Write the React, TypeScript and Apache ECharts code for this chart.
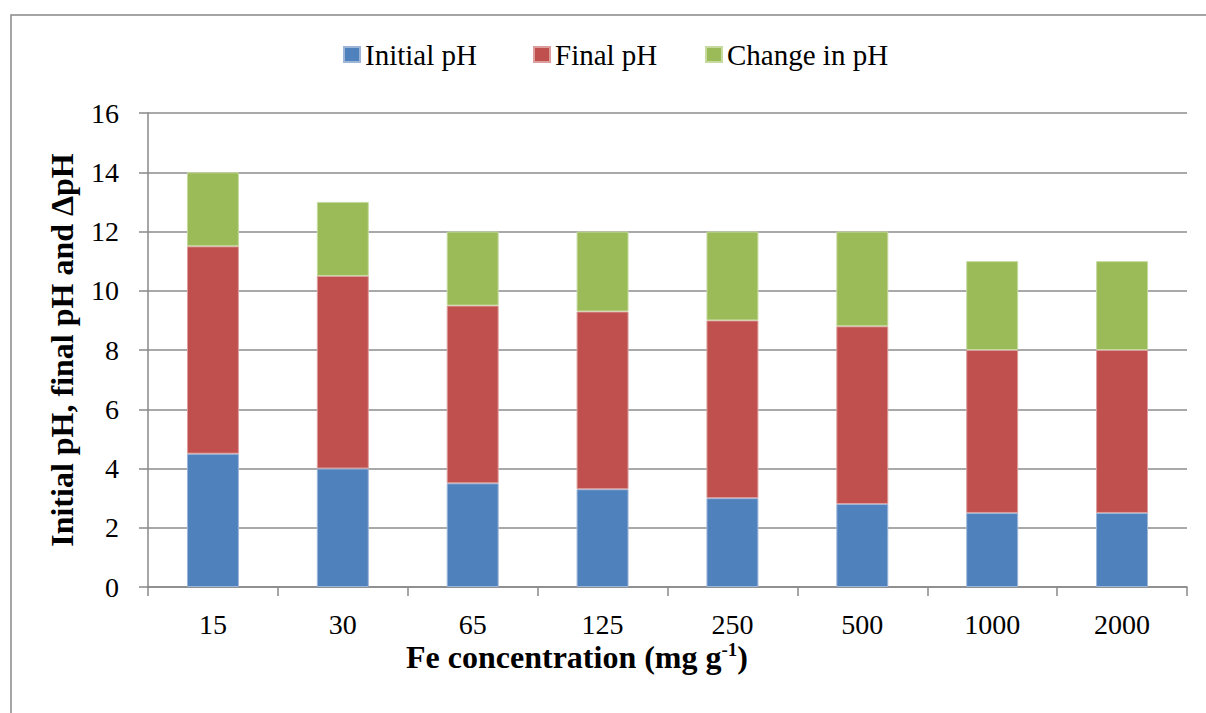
import React, { useEffect, useRef } from "react";
import * as echarts from "echarts";

const categories = ["15", "30", "65", "125", "250", "500", "1000", "2000"];
const initialPH = [4.5, 4.0, 3.5, 3.3, 3.0, 2.8, 2.5, 2.5];
const finalPH = [7.0, 6.5, 6.0, 6.0, 6.0, 6.0, 5.5, 5.5];
const changePH = [2.5, 2.5, 2.5, 2.7, 3.0, 3.2, 3.0, 3.0];
const seriesNames = ["Initial pH", "Final pH", "Change in pH"];
const colors = ["#4F81BD", "#C0504D", "#9BBB59"];
const borders = ["#9db6d8", "#dc9e9c", "#c6da9f"];
const legendLefts = [338, 528, 700];

const FONT = "'Liberation Serif', 'Times New Roman', serif";

export default function App() {
  const ref = useRef<HTMLDivElement>(null);
  useEffect(() => {
    if (!ref.current) return;
    const chart = echarts.init(ref.current, null, { renderer: "svg" });
    const data = [initialPH, finalPH, changePH];
    chart.setOption({
      animation: false,
      backgroundColor: "#ffffff",
      textStyle: { fontFamily: FONT, color: "#000" },
      legend: seriesNames.map((name, i) => ({
        left: legendLefts[i],
        top: 35,
        itemWidth: 16,
        itemHeight: 15,
        itemGap: 6,
        icon: "rect",
        textStyle: { fontFamily: FONT, fontSize: 29, color: "#000" },
        data: [name],
      })),
      grid: { left: 148, right: 19, top: 113, bottom: 126, containLabel: false },
      xAxis: {
        type: "category",
        data: categories,
        axisLine: { show: true, lineStyle: { color: "#888", width: 1.5 } },
        axisTick: { show: true, length: 9, lineStyle: { color: "#888", width: 1.5 } },
        axisLabel: { fontFamily: FONT, fontSize: 28, color: "#000", margin: 23 },
      },
      yAxis: {
        type: "value",
        min: 0,
        max: 16,
        interval: 2,
        axisLine: { show: true, lineStyle: { color: "#888", width: 1.5 } },
        axisTick: { show: true, length: 9, lineStyle: { color: "#888", width: 1.5 } },
        axisLabel: { fontFamily: FONT, fontSize: 28, color: "#000", margin: 29 },
        splitLine: { show: true, lineStyle: { color: "#8c8c8c", width: 1.5 } },
      },
      series: seriesNames.map((name, i) => ({
        name,
        type: "bar",
        stack: "total",
        barWidth: "40%",
        data: data[i],
        itemStyle: { color: colors[i], borderColor: borders[i], borderWidth: 1 },
      })),
      graphic: [
        {
          type: "rect",
          shape: { x: 11, y: 15, width: 1300, height: 800 },
          style: { fill: "none", stroke: "#888", lineWidth: 1.5 },
          silent: true,
        },
        {
          type: "text",
          x: 62,
          y: 350,
          rotation: Math.PI / 2,
          style: {
            text: "Initial pH, final pH and ΔpH",
            fontFamily: FONT,
            fontSize: 32,
            fontWeight: "bold",
            fill: "#000",
            textAlign: "center",
            textVerticalAlign: "middle",
          },
        },
        {
          type: "text",
          x: 577,
          y: 657,
          style: {
            text: "{b|Fe concentration (mg g}{s|-1}{b|)}",
            textAlign: "center",
            textVerticalAlign: "middle",
            rich: {
              b: { fontFamily: FONT, fontSize: 32, fontWeight: "bold", fill: "#000" },
              s: { fontFamily: FONT, fontSize: 19, fontWeight: "bold", fill: "#000", padding: [0, 0, 15, 0] },
            },
          },
        },
      ],
    });
    return () => chart.dispose();
  }, []);
  return (
    <div
      ref={ref}
      style={{ position: "fixed", left: 0, top: 0, width: 1206, height: 713, background: "#fff" }}
    />
  );
}
